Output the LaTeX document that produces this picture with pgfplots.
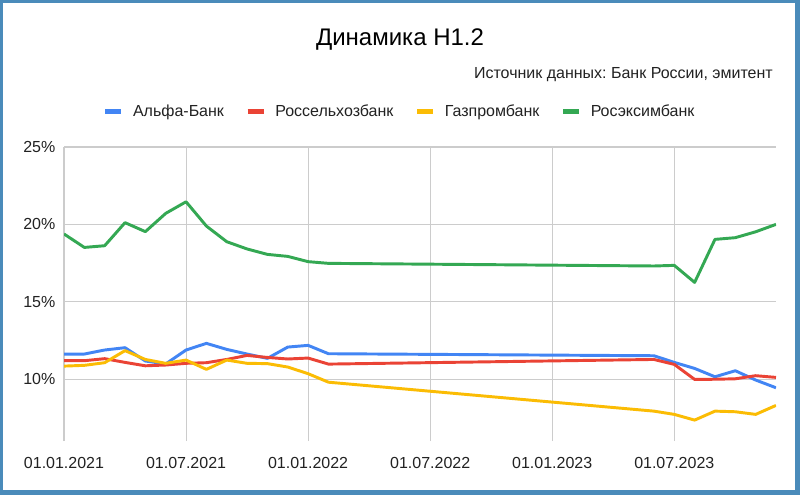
\documentclass[border=0pt]{standalone}
\usepackage{fontspec}
\setmainfont{Liberation Sans}
\usepackage{pgfplots}
\pgfplotsset{compat=1.18}
\definecolor{cBlue}{HTML}{4285F4}
\definecolor{cRed}{HTML}{EA4335}
\definecolor{cYellow}{HTML}{FBBC04}
\definecolor{cGreen}{HTML}{34A853}
\definecolor{cFrame}{HTML}{4A8BBA}
\definecolor{cGrid}{HTML}{CCCCCC}
\definecolor{cText}{HTML}{222222}
\frenchspacing
\begin{document}
\begin{tikzpicture}
\fill[cFrame] (0pt,0pt) rectangle (600pt,-371.25pt);
\fill[white] (2.6pt,-2.6pt) rectangle (596.25pt,-367.5pt);
\node[font=\fontsize{18}{20}\selectfont, text=black] at (300pt,-30pt) {Динамика Н1.2};
\node[font=\fontsize{12}{14}\selectfont, text=cText, anchor=east, inner sep=0pt] at (579.75pt,-56.25pt) {Источник данных: Банк России, эмитент};
\begin{axis}[
  at={(48pt,-330.75pt)}, anchor=south west,
  scale only axis, width=534pt, height=220.5pt,
  xmin=0, xmax=35, ymin=6, ymax=25,
  axis line style={draw=none},
  major tick length=0pt,
  xtick={0,6,12,18,24,30},
  xticklabels={01.01.2021,01.07.2021,01.01.2022,01.07.2022,01.01.2023,01.07.2023},
  ytick={10,15,20,25},
  yticklabels={10\%,15\%,20\%,25\%},
  tick label style={font=\fontsize{12}{14}\selectfont, text=cText},
  xticklabel style={yshift=-8.5pt},
  yticklabel style={xshift=-3pt},
  grid=major,
  major grid style={draw=cGrid, line width=0.8pt},
  every axis plot/.append style={line width=2.2pt, line join=round, no markers},
  legend columns=4,
  legend style={at={(axis description cs:0.472,1.12)}, anchor=center, draw=none, fill=none,
    font=\fontsize{12}{14}\selectfont, text=cText,
    /tikz/every odd column/.append style={column sep=5pt},
    /tikz/every even column/.append style={column sep=14pt}},
  legend image code/.code={\draw[line width=3.5pt] (0pt,0pt) -- (12pt,0pt);},
]
\addplot[cBlue] coordinates {
(0,11.62) (1,11.62) (2,11.88) (3,12.03) (4,11.17) (5,10.98) (6,11.88) (7,12.31) (8,11.92) (9,11.62) (10,11.34) (11,12.07) (12,12.18) (13,11.64)
(29,11.51) (30,11.08) (31,10.69) (32,10.15) (33,10.54) (34,9.94) (35,9.44)};
\addlegendentry{Альфа-Банк}
\addplot[cRed] coordinates {
(0,11.19) (1,11.19) (2,11.32) (3,11.08) (4,10.86) (5,10.91) (6,11.02) (7,11.06) (8,11.27) (9,11.53) (10,11.40) (11,11.30) (12,11.36) (13,10.97)
(29,11.27) (30,10.95) (31,9.98) (32,9.99) (33,10.02) (34,10.22) (35,10.11)};
\addlegendentry{Россельхозбанк}
\addplot[cYellow] coordinates {
(0,10.84) (1,10.89) (2,11.06) (3,11.84) (4,11.27) (5,11.02) (6,11.23) (7,10.63) (8,11.23) (9,11.02) (10,11.00) (11,10.78) (12,10.35) (13,9.80)
(29,7.93) (30,7.72) (31,7.35) (32,7.93) (33,7.89) (34,7.72) (35,8.30)};
\addlegendentry{Газпромбанк}
\addplot[cGreen] coordinates {
(0,19.38) (1,18.51) (2,18.62) (3,20.11) (4,19.53) (5,20.71) (6,21.46) (7,19.89) (8,18.88) (9,18.41) (10,18.06) (11,17.93) (12,17.59) (13,17.48)
(29,17.31) (30,17.35) (31,16.25) (32,19.03) (33,19.14) (34,19.52) (35,20.00)};
\addlegendentry{Росэксимбанк}
\end{axis}
\end{tikzpicture}
\end{document}
